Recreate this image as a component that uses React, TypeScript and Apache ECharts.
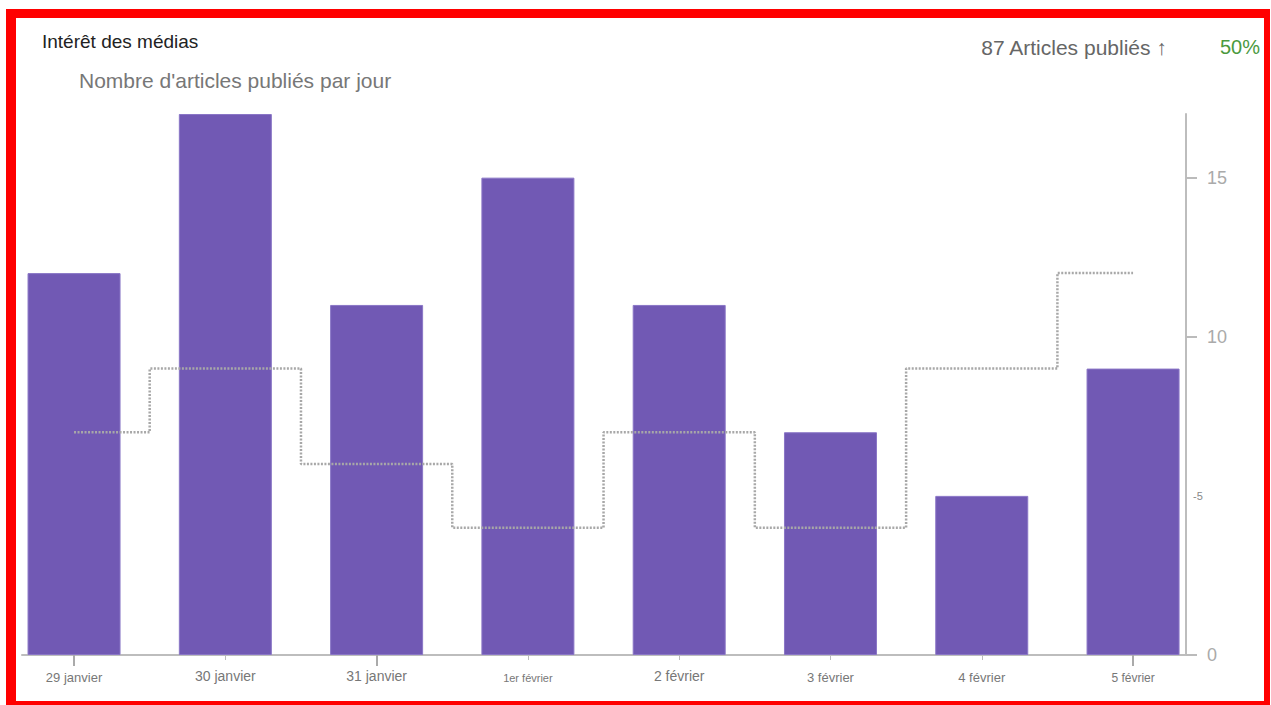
import React, { useEffect, useRef } from "react";
import * as echarts from "echarts";

const categories = [
  "29 janvier",
  "30 janvier",
  "31 janvier",
  "1er février",
  "2 février",
  "3 février",
  "4 février",
  "5 février",
];
const articles = [12, 17, 11, 15, 11, 7, 5, 9];
const previousPeriod = [7, 9, 6, 4, 7, 4, 9, 12];
const yTickValues = [0, 10, 15];
const yOddLabel = [5];
const labelStyleKeys = ["a", "b", "b", "c", "b", "d", "d", "e"];
const longTickIdx = [0, 2, 7];
const shortTickIdx = [1, 3, 4, 5, 6];

const FONT = "'Liberation Sans', Arial, Helvetica, sans-serif";

export default function App() {
  const ref = useRef<HTMLDivElement>(null);

  useEffect(() => {
    if (!ref.current) return;
    const chart = echarts.init(ref.current, null, { renderer: "svg" });
    const idx = categories.map((_, i) => i);
    const barData = articles.map((v, i) => [i, v]);
    const lineData = previousPeriod.map((v, i) => [i, v]);

    const option: any = {
      animation: false,
      backgroundColor: "#ffffff",
      textStyle: { fontFamily: FONT },
      title: [
        {
          text: "Intérêt des médias",
          left: 42,
          top: 32,
          padding: 0,
          textStyle: { fontSize: 19, fontWeight: "normal", color: "#222222", fontFamily: FONT },
        },
        {
          text: "Nombre d'articles publiés par jour",
          left: 79,
          top: 70,
          padding: 0,
          textStyle: { fontSize: 21, fontWeight: "normal", color: "#777777", fontFamily: FONT },
        },
        {
          text: "87 Articles publiés ↑",
          right: 103,
          top: 37,
          padding: 0,
          textStyle: { fontSize: 21, fontWeight: "normal", color: "#666666", fontFamily: FONT },
        },
        {
          text: "50%",
          right: 11,
          top: 37,
          padding: 0,
          textStyle: { fontSize: 20, fontWeight: "normal", color: "#4b9a3e", fontFamily: FONT },
        },
      ],
      grid: { left: 22, right: 85, top: 114, bottom: 50, containLabel: false },
      xAxis: [
        {
          type: "value",
          min: -0.344,
          max: 7.35,
          position: "bottom",
          splitLine: { show: false },
          axisLine: { show: true, onZero: false, lineStyle: { color: "#bdbdbd", width: 2 } },
          axisTick: {
            show: true,
            customValues: shortTickIdx,
            length: 5,
            lineStyle: { color: "#bbbbbb", width: 1 },
          },
          axisLabel: {
            show: true,
            customValues: idx,
            margin: 14,
            formatter: (v: number) => {
              const i = Math.round(v);
              return "{" + labelStyleKeys[i] + "|" + categories[i] + "}";
            },
            rich: {
              a: { fontSize: 13, color: "#777777", fontFamily: FONT, padding: [2, 0, 0, 0] },
              b: { fontSize: 14, color: "#777777", fontFamily: FONT },
              c: { fontSize: 11, color: "#777777", fontFamily: FONT, padding: [3, 0, 0, 0] },
              d: { fontSize: 13, color: "#777777", fontFamily: FONT, padding: [2, 0, 0, 0] },
              e: { fontSize: 12, color: "#777777", fontFamily: FONT, padding: [3, 0, 0, 0] },
            },
          },
        },
        {
          type: "value",
          min: -0.344,
          max: 7.35,
          position: "bottom",
          offset: 0,
          splitLine: { show: false },
          axisLine: { show: false, onZero: false },
          axisLabel: { show: false },
          axisTick: {
            show: true,
            customValues: longTickIdx,
            length: 11,
            lineStyle: { color: "#aaaaaa", width: 2 },
          },
        },
      ],
      yAxis: [
        {
          type: "value",
          min: 0,
          max: 17,
          position: "right",
          splitLine: { show: false },
          axisLine: { show: true, onZero: false, lineStyle: { color: "#bdbdbd", width: 2 } },
          axisTick: {
            show: true,
            customValues: yTickValues,
            length: 11,
            lineStyle: { color: "#bbbbbb", width: 2 },
          },
          axisLabel: {
            show: true,
            customValues: yTickValues,
            margin: 21,
            fontSize: 18,
            color: "#aaaaaa",
            fontFamily: FONT,
          },
        },
        {
          type: "value",
          min: 0,
          max: 17,
          position: "right",
          splitLine: { show: false },
          axisLine: { show: false, onZero: false },
          axisTick: { show: false },
          axisLabel: {
            show: true,
            customValues: yOddLabel,
            margin: 7,
            fontSize: 11,
            color: "#888888",
            fontFamily: FONT,
            formatter: (v: number) => "-" + v,
          },
        },
      ],
      series: [
        {
          name: "Articles publiés",
          type: "bar",
          xAxisIndex: 0,
          yAxisIndex: 0,
          data: barData,
          barWidth: 93,
          itemStyle: { color: "#7159b4", borderColor: "#8a76c6", borderWidth: 1 },
          z: 2,
        },
        {
          name: "Période précédente",
          type: "line",
          xAxisIndex: 0,
          yAxisIndex: 0,
          step: "middle",
          data: lineData,
          symbol: "none",
          lineStyle: { color: "#a8a8a8", width: 2.5, type: [2, 1.5] },
          z: 3,
        },
      ],
    };
    chart.setOption(option);
    return () => chart.dispose();
  }, []);

  return (
    <div style={{ position: "fixed", left: 0, top: 0, width: 1271, height: 705, background: "#fff" }}>
      <div ref={ref} style={{ position: "absolute", left: 0, top: 0, width: 1271, height: 705 }} />
      <div
        style={{
          position: "absolute",
          left: 6,
          top: 9,
          width: 1264,
          height: 696,
          boxSizing: "border-box",
          borderStyle: "solid",
          borderColor: "#ff0000",
          borderTopWidth: 9,
          borderLeftWidth: 10,
          borderRightWidth: 6,
          borderBottomWidth: 4,
          pointerEvents: "none",
        }}
      />
    </div>
  );
}
